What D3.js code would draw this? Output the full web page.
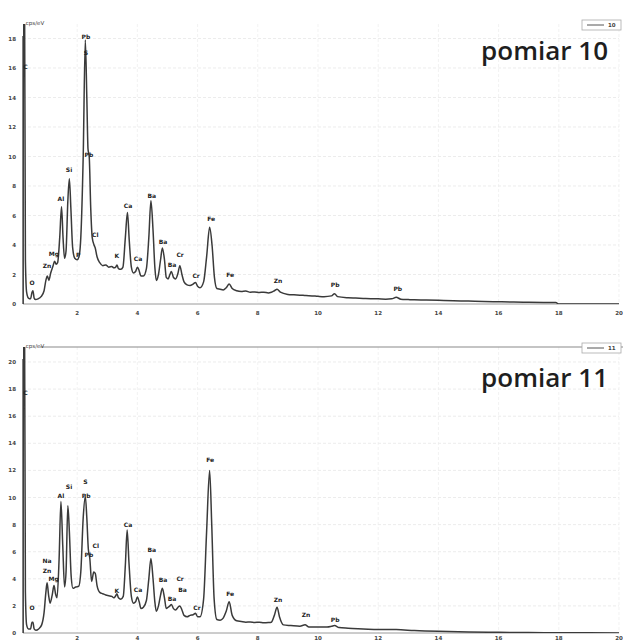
<!DOCTYPE html>
<html>
<head>
<meta charset="utf-8">
<script src="https://cdn.jsdelivr.net/npm/d3@7"></script>
<style>
  body { margin: 0; background: #fff; }
  svg { display: block; }
  .tick-label { font-family: "DejaVu Sans", sans-serif; font-size: 5.5px; fill: #444; font-weight: bold; }
  .peak { font-family: "DejaVu Sans", sans-serif; font-size: 6px; fill: #222; font-weight: bold; }
  .title { font-family: "Open Sans", sans-serif; font-weight: 600; font-size: 26px; fill: #1e1e1e; }
</style>
</head>
<body>
<script>
'use strict';

// x ticks (keV), shared by both panels
let xTicks = [2, 4, 6, 8, 10, 12, 14, 16, 18, 20];
let yTicks10 = [0, 2, 4, 6, 8, 10, 12, 14, 16, 18];
let yTicks11 = [0, 2, 4, 6, 8, 10, 12, 14, 16, 18, 20];

// spectrum "pomiar 10": [keV, cps/eV]
let spectrum10 = [
    [0.2, 0], [0.22, 22], [0.25, 22], [0.28, 3], [0.32, 0.8], [0.38, 0.4], [0.45, 0.35],
    [0.5, 0.8], [0.53, 0.9], [0.57, 0.4], [0.62, 0.3], [0.7, 0.35], [0.8, 0.5], [0.9, 0.9],
    [0.96, 1.6], [1.01, 1.9], [1.06, 1.6], [1.12, 2.1], [1.2, 2.6], [1.25, 2.9], [1.3, 2.7],
    [1.35, 2.8], [1.42, 4.5], [1.48, 6.6], [1.53, 4.5], [1.58, 3.1], [1.63, 3.6], [1.69, 7.0],
    [1.74, 8.5], [1.79, 6.5], [1.85, 3.8], [1.92, 3.1], [2.0, 3.0], [2.06, 3.2], [2.12, 4.5],
    [2.2, 10], [2.27, 17.9], [2.32, 14], [2.36, 10.5], [2.4, 10], [2.45, 6.5], [2.5, 4.5],
    [2.56, 4.0], [2.6, 3.8], [2.66, 3.2], [2.75, 2.8], [2.85, 2.6], [2.95, 2.65], [3.05, 2.5],
    [3.15, 2.55], [3.22, 2.45], [3.28, 2.5], [3.32, 2.65], [3.37, 2.4], [3.45, 2.35], [3.52, 2.5],
    [3.6, 4.5], [3.67, 6.2], [3.73, 4.3], [3.8, 2.5], [3.87, 2.1], [3.94, 2.2], [4.0, 2.5],
    [4.05, 2.3], [4.12, 1.9], [4.2, 1.9], [4.3, 2.4], [4.38, 4.5], [4.45, 7.0], [4.52, 5.0],
    [4.58, 2.5], [4.63, 1.6], [4.7, 2.0], [4.77, 3.0], [4.83, 3.8], [4.9, 3.0], [4.96, 1.8],
    [5.02, 1.7], [5.08, 2.0], [5.13, 2.2], [5.2, 1.8], [5.27, 1.7], [5.35, 2.1], [5.41, 2.6],
    [5.48, 2.0], [5.55, 1.5], [5.65, 1.3], [5.75, 1.25], [5.85, 1.35], [5.93, 1.45], [6.0, 1.2],
    [6.08, 1.1], [6.2, 1.5], [6.3, 3.2], [6.4, 5.2], [6.48, 4.0], [6.56, 1.8], [6.64, 1.05],
    [6.75, 1.0], [6.85, 0.95], [6.95, 1.1], [7.05, 1.35], [7.15, 1.05], [7.3, 0.9], [7.45, 0.85],
    [7.6, 0.88], [7.75, 0.8], [7.9, 0.82], [8.05, 0.78], [8.2, 0.8], [8.35, 0.75], [8.45, 0.8],
    [8.55, 0.9], [8.64, 1.0], [8.75, 0.8], [9.0, 0.65], [9.2, 0.62], [9.4, 0.6], [9.6, 0.57],
    [9.8, 0.55], [10.0, 0.52], [10.2, 0.5], [10.45, 0.55], [10.55, 0.7], [10.65, 0.5], [11.0, 0.42],
    [11.25, 0.4], [11.5, 0.38], [11.75, 0.36], [12.0, 0.35], [12.25, 0.33], [12.45, 0.35],
    [12.6, 0.45], [12.75, 0.33], [13.0, 0.3], [13.2, 0.28], [13.6, 0.27], [14.0, 0.25],
    [14.5, 0.22], [15.0, 0.2], [15.5, 0.17], [16.0, 0.15], [16.5, 0.13], [17.0, 0.12],
    [17.5, 0.11], [17.9, 0.1], [18.0, 0], [20, 0]
];

// element labels "pomiar 10": [text, keV, label height]
let labels10 = [
    ["C", 0.28, 15.9], ["O", 0.5, 1.3], ["Zn", 1.0, 2.45], ["Mg", 1.23, 3.25], ["Al", 1.46, 7.0],
    ["Si", 1.73, 8.95], ["P", 2.03, 3.2], ["Pb", 2.29, 18.0], ["S", 2.29, 16.9], ["Pb", 2.39, 10.0],
    ["Cl", 2.6, 4.55], ["K", 3.32, 3.1], ["Ca", 3.69, 6.5], ["Ca", 4.02, 2.9], ["Ba", 4.48, 7.2],
    ["Ba", 4.85, 4.1], ["Ba", 5.15, 2.5], ["Cr", 5.42, 3.2], ["Cr", 5.95, 1.75], ["Fe", 6.45, 5.6],
    ["Fe", 7.08, 1.8], ["Zn", 8.67, 1.4], ["Pb", 10.57, 1.15], ["Pb", 12.65, 0.9]
];

// spectrum "pomiar 11": [keV, cps/eV]
let spectrum11 = [
    [0.2, 0], [0.22, 24], [0.25, 24], [0.28, 3], [0.32, 0.6], [0.38, 0.3], [0.45, 0.3],
    [0.5, 0.8], [0.53, 0.8], [0.57, 0.3], [0.63, 0.2], [0.72, 0.3], [0.82, 0.6], [0.9, 1.5],
    [0.96, 3.0], [1.0, 3.7], [1.05, 2.8], [1.1, 2.2], [1.17, 2.8], [1.23, 3.5], [1.28, 2.9],
    [1.33, 2.6], [1.4, 5.5], [1.46, 9.7], [1.52, 6.5], [1.58, 3.4], [1.63, 4.5], [1.69, 9.4],
    [1.74, 7.5], [1.8, 4.2], [1.86, 3.3], [1.95, 3.4], [2.05, 3.45], [2.12, 4.5], [2.2, 8.5],
    [2.27, 10.1], [2.32, 8.5], [2.37, 6.2], [2.42, 5.5], [2.48, 3.8], [2.55, 4.5], [2.6, 4.4],
    [2.66, 3.5], [2.75, 3.0], [2.85, 2.9], [2.95, 2.8], [3.05, 2.75], [3.15, 2.7], [3.22, 2.6],
    [3.28, 2.75], [3.32, 2.9], [3.37, 2.6], [3.45, 2.5], [3.53, 2.7], [3.6, 5.0], [3.66, 7.6],
    [3.72, 5.2], [3.8, 2.7], [3.87, 2.2], [3.94, 2.3], [4.0, 2.65], [4.06, 2.3], [4.12, 1.8],
    [4.2, 1.9], [4.3, 2.4], [4.38, 4.0], [4.45, 5.5], [4.52, 4.0], [4.58, 2.3], [4.63, 1.6],
    [4.7, 2.0], [4.77, 2.8], [4.83, 3.3], [4.9, 2.6], [4.96, 1.8], [5.02, 1.9], [5.08, 2.0],
    [5.13, 2.1], [5.2, 1.8], [5.27, 1.7], [5.35, 1.9], [5.41, 2.0], [5.48, 1.7], [5.55, 1.3],
    [5.65, 1.2], [5.75, 1.3], [5.85, 1.35], [5.93, 1.45], [6.0, 1.2], [6.08, 1.2], [6.2, 2.5],
    [6.3, 7.5], [6.4, 12.0], [6.47, 8], [6.55, 2.5], [6.64, 1.0], [6.75, 0.95], [6.85, 1.1],
    [6.95, 1.6], [7.05, 2.3], [7.15, 1.3], [7.3, 0.9], [7.45, 0.85], [7.6, 0.8], [7.75, 0.82],
    [7.9, 0.78], [8.05, 0.8], [8.2, 0.75], [8.35, 0.77], [8.45, 0.8], [8.55, 1.3], [8.64, 1.9],
    [8.72, 1.2], [8.85, 0.6], [9.1, 0.55], [9.4, 0.5], [9.57, 0.6], [9.7, 0.45], [10.0, 0.45],
    [10.3, 0.45], [10.45, 0.5], [10.55, 0.55], [10.7, 0.4], [11.0, 0.35], [11.5, 0.3],
    [12.0, 0.25], [12.6, 0.25], [13.2, 0.18], [14.0, 0.12], [15.0, 0.08], [16, 0.05],
    [17, 0.03], [18, 0.02], [20, 0]
];

// element labels "pomiar 11": [text, keV, label height]
let labels11 = [
    ["C", 0.28, 17.6], ["O", 0.5, 1.7], ["Na", 1.0, 5.2], ["Zn", 1.0, 4.45], ["Mg", 1.22, 3.85],
    ["Al", 1.46, 10.0], ["Si", 1.73, 10.6], ["S", 2.27, 11.0], ["Pb", 2.3, 10.0], ["Pb", 2.39, 5.6],
    ["Cl", 2.62, 6.3], ["K", 3.32, 2.95], ["Ca", 3.69, 7.8], ["Ca", 4.02, 3.0], ["Ba", 4.48, 6.0],
    ["Ba", 4.85, 3.75], ["Ba", 5.15, 2.35], ["Cr", 5.42, 3.85], ["Ba", 5.5, 3.0], ["Cr", 5.98, 1.7],
    ["Fe", 6.42, 12.6], ["Fe", 7.08, 2.75], ["Zn", 8.67, 2.3], ["Zn", 9.6, 1.2], ["Pb", 10.57, 0.8]
];

let svg = d3.select("body").append("svg").attr("width", 623).attr("height", 641);

let x = d3.scaleLinear().domain([0.2, 20]).range([23, 619]);

function panel(id, cfg) {
    let y = d3.scaleLinear().domain([0, cfg.yTop]).range([cfg.bottom, cfg.tickTop]);
    let g = svg.append("g");

    svg.append("clipPath").attr("id", "clip" + id)
        .append("rect")
        .attr("x", x(0.2)).attr("y", cfg.frame)
        .attr("width", x(20) - x(0.2)).attr("height", cfg.bottom - cfg.frame);

    // faint grid
    g.selectAll(".hg").data(cfg.yTicks.slice(1)).enter().append("line")
        .attr("x1", x(0.2)).attr("x2", x(20))
        .attr("y1", d => y(d)).attr("y2", d => y(d))
        .attr("stroke", "#e4e4e4").attr("stroke-dasharray", "3,2").attr("stroke-width", 0.7);
    g.selectAll(".vg").data(xTicks).enter().append("line")
        .attr("x1", d => x(d)).attr("x2", d => x(d))
        .attr("y1", cfg.frame).attr("y2", cfg.bottom)
        .attr("stroke", "#ececec").attr("stroke-dasharray", "3,2").attr("stroke-width", 0.7);

    if (cfg.frameLine) {
        g.append("line")
            .attr("x1", 40).attr("x2", 623)
            .attr("y1", cfg.frame).attr("y2", cfg.frame)
            .attr("stroke", "#8a8a8a").attr("stroke-width", 1.2);
    }

    // axes
    g.append("line")
        .attr("x1", x(0.2)).attr("x2", x(20))
        .attr("y1", cfg.bottom).attr("y2", cfg.bottom)
        .attr("stroke", "#9a9a9a").attr("stroke-width", 1);
    g.append("line")
        .attr("x1", x(0.2)).attr("x2", x(0.2))
        .attr("y1", cfg.frame + 12).attr("y2", cfg.bottom)
        .attr("stroke", "#555").attr("stroke-width", 1.5);

    g.selectAll(".yl").data(cfg.yTicks).enter().append("text")
        .attr("class", "tick-label")
        .attr("x", 16).attr("y", d => y(d) + 2)
        .attr("text-anchor", "end")
        .text(d => d);
    g.selectAll(".xl").data(xTicks).enter().append("text")
        .attr("class", "tick-label")
        .attr("x", d => x(d)).attr("y", cfg.xLabelY)
        .attr("text-anchor", "middle")
        .text(d => d);

    g.append("text").attr("class", "tick-label")
        .attr("x", 35).attr("y", cfg.frame + 1)
        .attr("text-anchor", "middle")
        .style("font-weight", "normal")
        .text("cps/eV");

    // spectrum
    let line = d3.line()
        .x(d => x(d[0]))
        .y(d => y(d[1]))
        .curve(d3.curveMonotoneX);
    g.append("path")
        .datum(cfg.spectrum)
        .attr("clip-path", "url(#clip" + id + ")")
        .attr("fill", "none")
        .attr("stroke", "#3a3a3a")
        .attr("stroke-width", 1.5)
        .attr("stroke-linejoin", "round")
        .attr("d", line);

    g.selectAll(".peak").data(cfg.labels).enter().append("text")
        .attr("class", "peak")
        .attr("x", d => x(d[1])).attr("y", d => y(d[2]))
        .attr("text-anchor", "middle")
        .text(d => d[0]);

    // legend box
    let lg = g.append("g").attr("transform", "translate(582," + (cfg.frame - 4) + ")");
    lg.append("rect").attr("width", 39).attr("height", 10)
        .attr("fill", "#fff").attr("stroke", "#aaa").attr("stroke-width", 0.8);
    lg.append("line").attr("x1", 5).attr("x2", 22).attr("y1", 5).attr("y2", 5)
        .attr("stroke", "#555").attr("stroke-width", 1);
    lg.append("text").attr("class", "tick-label")
        .attr("x", 26).attr("y", 7)
        .text(cfg.legend);

    g.append("text").attr("class", "title")
        .attr("x", 608).attr("y", cfg.titleY)
        .attr("text-anchor", "end")
        .text(cfg.title);
}

panel(10, {
    yTop: 18, bottom: 304, tickTop: 38.5, frame: 24,
    yTicks: yTicks10, spectrum: spectrum10, labels: labels10, xLabelY: 315,
    legend: "10", title: "pomiar 10", titleY: 60, frameLine: false
});
panel(11, {
    yTop: 20, bottom: 633, tickTop: 362, frame: 347,
    yTicks: yTicks11, spectrum: spectrum11, labels: labels11, xLabelY: 639.5,
    legend: "11", title: "pomiar 11", titleY: 387, frameLine: true
});
</script>
</body>
</html>
